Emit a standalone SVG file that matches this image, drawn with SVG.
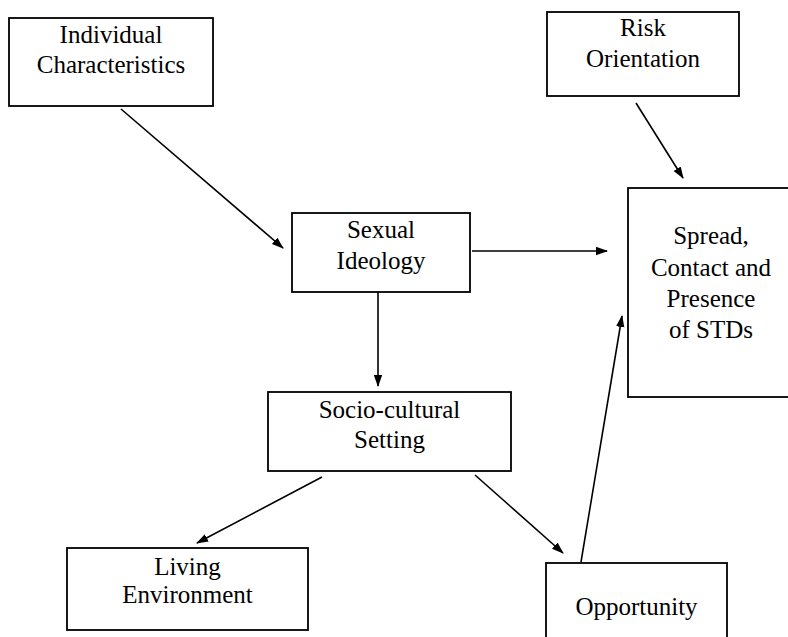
<svg xmlns="http://www.w3.org/2000/svg" width="788" height="637" viewBox="0 0 788 637">
<style>
  .box { fill: #fff; stroke: #000; stroke-width: 1.8; }
  .lbl { font-family: "Liberation Serif", "Times New Roman", serif; font-size: 25px; fill: #000; text-anchor: middle; }
  .edge { stroke: #000; stroke-width: 1.6; fill: none; marker-end: url(#ah); }
</style>
<defs>
  <marker id="ah" markerWidth="12" markerHeight="10" refX="11" refY="5" orient="auto" markerUnits="userSpaceOnUse">
    <path d="M0,0.8 L12,5 L0,9.2 Z" fill="#000"/>
  </marker>
</defs>
<rect width="788" height="637" fill="#fff"/>
<g id="connectors">
  <line class="edge" x1="121" y1="109" x2="283" y2="248"/>
  <line class="edge" x1="636" y1="103" x2="683" y2="178"/>
  <line class="edge" x1="472" y1="251" x2="607" y2="251"/>
  <line class="edge" x1="378" y1="292" x2="378" y2="386"/>
  <line class="edge" x1="322" y1="477" x2="197" y2="543"/>
  <line class="edge" x1="475" y1="475" x2="563" y2="553"/>
  <line class="edge" x1="581" y1="562" x2="622" y2="316"/>
</g>
<g id="individual">
  <rect class="box" x="9" y="18" width="204" height="88"/>
  <text class="lbl" x="111" y="43">Individual</text>
  <text class="lbl" x="111" y="73">Characteristics</text>
</g>
<g id="risk">
  <rect class="box" x="547" y="12" width="192" height="84"/>
  <text class="lbl" x="643" y="36">Risk</text>
  <text class="lbl" x="643" y="67">Orientation</text>
</g>
<g id="sexual">
  <rect class="box" x="292" y="213" width="178" height="79"/>
  <text class="lbl" x="381" y="238">Sexual</text>
  <text class="lbl" x="381" y="269">Ideology</text>
</g>
<g id="spread">
  <rect class="box" x="628" y="188" width="166" height="209"/>
  <text class="lbl" x="711" y="244">Spread,</text>
  <text class="lbl" x="711" y="276">Contact and</text>
  <text class="lbl" x="711" y="307">Presence</text>
  <text class="lbl" x="711" y="338">of STDs</text>
</g>
<g id="socio">
  <rect class="box" x="268" y="392" width="243" height="79"/>
  <text class="lbl" x="389.5" y="418">Socio-cultural</text>
  <text class="lbl" x="389.5" y="448">Setting</text>
</g>
<g id="living">
  <rect class="box" x="67" y="548" width="241" height="82"/>
  <text class="lbl" x="187.5" y="575">Living</text>
  <text class="lbl" x="187.5" y="603">Environment</text>
</g>
<g id="opportunity">
  <rect class="box" x="546" y="563" width="181" height="90"/>
  <text class="lbl" x="636.5" y="615">Opportunity</text>
</g>
</svg>
